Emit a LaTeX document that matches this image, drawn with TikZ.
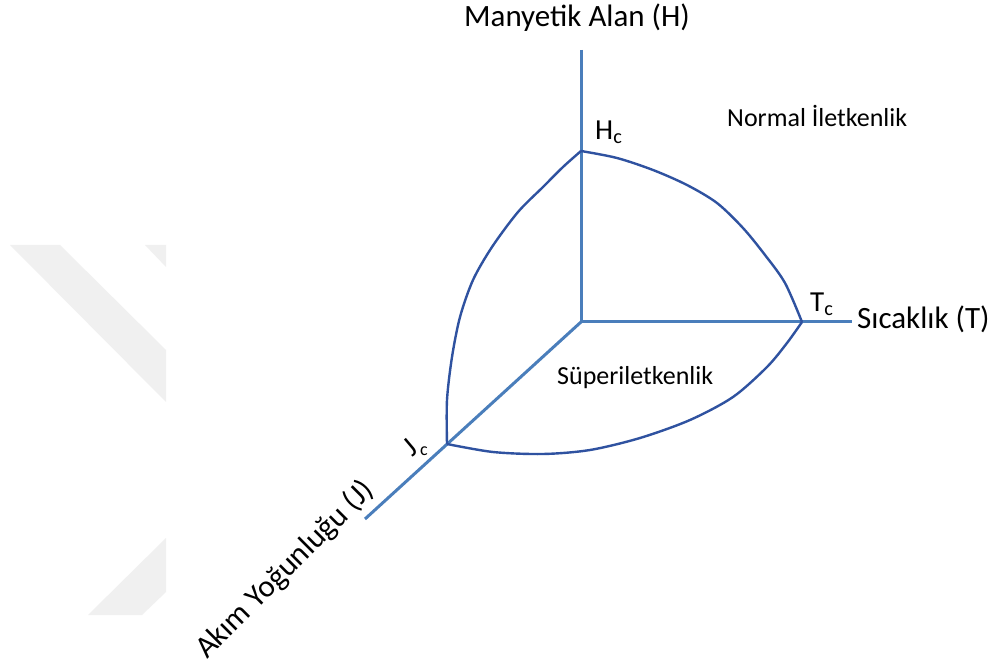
\documentclass[tikz,border=0pt]{standalone}
\usepackage{fontspec}
\setmainfont{Carlito}
\begin{document}
\begin{tikzpicture}[x=1pt,y=-1pt,
  axis/.style={draw=axisblue,line width=3pt},
  curve/.style={draw=curveblue,line width=2.4pt,line join=round},
  wm/.style={fill=wmgray,draw=none},
  biglbl/.style={font=\fontsize{31}{35}\selectfont,inner sep=0pt},
  midlbl/.style={font=\fontsize{26}{30}\selectfont,inner sep=0pt},
  crit/.style={font=\fontsize{29}{33}\selectfont,inner sep=0pt}]
\definecolor{axisblue}{HTML}{4A7EBB}
\definecolor{curveblue}{HTML}{2F52A0}
\definecolor{wmgray}{HTML}{F0F0F0}
\useasboundingbox (0,0) rectangle (997,668);
\fill[white] (0,0) rectangle (997,668);
% watermark
\fill[wm] (10,245) -- (60,245) -- (166,350) -- (166,402) -- cycle;
\fill[wm] (145,245) -- (166,245) -- (166,267) -- cycle;
\fill[wm] (166,538) -- (88,615) -- (142,615) -- (166,592) -- cycle;
% coordinates
\coordinate (O) at (581,322);
\coordinate (Htop) at (581,50);
\coordinate (Tend) at (852,322);
\coordinate (Jend) at (365,519);
\coordinate (Hc) at (581,151);
\coordinate (Tc) at (802,322);
\coordinate (Jc) at (447,444);
% axes
\draw[axis] (Htop) -- (O);
\draw[axis] (O) -- (Tend);
\draw[axis] (O) -- (Jend);
% curves
\draw[curve] plot[smooth,tension=0.5] coordinates {(581,151) (617,158) (653,170) (687,185) (717,203) (743,228) (765,255) (785,283) (802,322)};
\draw[curve] plot[smooth,tension=0.5] coordinates {(581,151) (563,167) (543,187) (518,212) (492,247) (473,280) (460,317) (452,357) (447,400) (447,444)};
\draw[curve] plot[smooth,tension=0.5] coordinates {(447,444) (493,452) (543,454) (590,450) (640,438) (690,420) (733,397) (767,367) (787,343) (802,322)};
% labels
\node[biglbl,anchor=base] (lH) at (577,27) {Manyetik Alan (H)};
\node[biglbl,anchor=base west] (lT) at (857,329) {Sıcaklık (T)};
\node[biglbl,rotate=45] (lJ) at (285,570) {Akım Yoğunluğu (J)};
\node[midlbl,anchor=base west] (lN) at (727,127) {Normal İletkenlik};
\node[midlbl,anchor=base west] (lS) at (557,385) {Süperiletkenlik};
\node[crit,anchor=base west] (lHc) at (595,140) {H\textsubscript{c}};
\node[crit,anchor=base west] (lTc) at (810,312) {T\textsubscript{c}};
\node[crit,rotate=40] (lJc) at (410,447) {J};
\node[font=\fontsize{18}{21}\selectfont,inner sep=0pt] (lJcc) at (424,451) {c};
\end{tikzpicture}
\end{document}
